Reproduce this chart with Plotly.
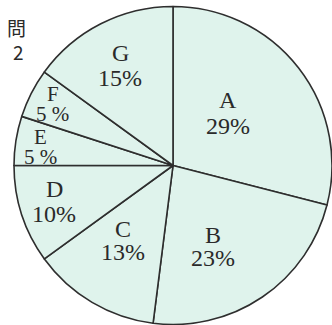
import math
import plotly.graph_objects as go

# ── Data ────────────────────────────────────────────────────────────────────
labels = ["A", "B", "C", "D", "E", "F", "G"]
values = [29, 23, 13, 10, 5, 5, 15]

# ── Style ───────────────────────────────────────────────────────────────────
FILL = "#dff3ec"
LINE = "#2e2e2e"
TEXT = "#2a2a2a"
SERIF = "Liberation Serif, DejaVu Serif, serif"
SANS = "Noto Sans CJK JP, Noto Sans, sans-serif"

# label placement per slice: distance from centre (fraction of radius),
# angle nudge off the bisector (deg), gap between the two lines (px), font size
LABEL_R = [0.48, 0.57, 0.57, 0.78, 0.84, 0.85, 0.71]
LABEL_DA = [-6, 8, 3, 1, -1, 0, -1]
LABEL_GAP = [26, 23, 23, 25, 20, 20, 25]
LABEL_SIZE = [24, 24, 24, 24, 21, 21, 24]

W, H = 332, 325
X0, X1 = 14 / W, 1.0
Y0, Y1 = 0.0, 1 - 6 / H

fig = go.Figure(go.Pie(
    labels=labels,
    values=values,
    sort=False,
    direction="clockwise",
    rotation=0,
    marker=dict(colors=[FILL] * len(values), line=dict(color=LINE, width=1.6)),
    textinfo="none",
    hoverinfo="label+percent",
    showlegend=False,
    domain=dict(x=[X0, X1], y=[Y0, Y1]),
))

# centre and radius in pixels, to place the labels along each slice's bisector
R = min((X1 - X0) * W, (Y1 - Y0) * H) / 2
cx = (X0 + X1) / 2 * W
cy = (1 - (Y0 + Y1) / 2) * H
total = sum(values)
cum = 0
for i, (lab, v) in enumerate(zip(labels, values)):
    mid = (cum + v / 2) / total * 2 * math.pi + math.radians(LABEL_DA[i])
    cum += v
    px = cx + math.sin(mid) * R * LABEL_R[i]
    py = cy - math.cos(mid) * R * LABEL_R[i]
    pct = f"{v} %" if v < 10 else f"{v}%"
    half = LABEL_GAP[i] / 2
    for txt, dy in ((lab, -half), (pct, half)):
        fig.add_annotation(
            x=px / W, y=1 - (py + dy) / H, xref="paper", yref="paper",
            text=txt, showarrow=False,
            font=dict(family=SERIF, size=LABEL_SIZE[i], color=TEXT),
            xanchor="center", yanchor="middle",
        )

for txt, x, y in (("問", 16, 28), ("2", 18, 51)):
    fig.add_annotation(
        x=x / W, y=1 - y / H, xref="paper", yref="paper",
        text=txt, showarrow=False,
        font=dict(family=SANS, size=19, color=TEXT),
        xanchor="center", yanchor="middle",
    )

fig.update_layout(
    width=W, height=H,
    margin=dict(l=0, r=0, t=0, b=0),
    paper_bgcolor="white",
    plot_bgcolor="white",
)

# the page's default body margin would push the figure 8px off the corner
fig.write_html(
    "out.html",
    config={"displayModeBar": False},
    post_script="document.body.style.margin='0';",
)
